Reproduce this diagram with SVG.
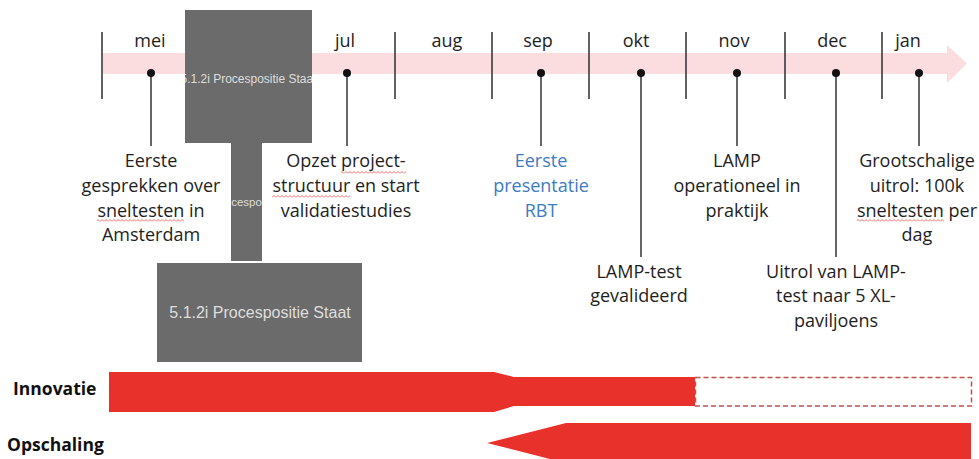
<svg xmlns="http://www.w3.org/2000/svg" width="979" height="459" viewBox="0 0 979 459">
<style>
.t{font-family:"Open Sans","Liberation Sans",sans-serif;font-size:18px;fill:#1e1e1e;text-anchor:middle}
.blue{fill:#3d7cc0}
.lab{font-family:"Open Sans","Liberation Sans",sans-serif;font-size:17.5px;font-weight:bold;fill:#111}
.box{fill:#6b6b6b}
.bt{font-family:"Liberation Sans",Arial,sans-serif;fill:#dedede;text-anchor:middle}
.tick{stroke:#3a3a3a;stroke-width:1.6}
.stem{stroke:#333;stroke-width:1.5}
.dot{fill:#111}
.red{fill:#e8312a}
</style>
<defs>
<pattern id="sq" width="4" height="3" patternUnits="userSpaceOnUse">
<path d="M0,2.5 L2,0.5 L4,2.5" fill="none" stroke="#e0443c" stroke-width="0.8"/>
</pattern>
<clipPath id="c1"><rect x="185" y="10" width="127" height="133"/></clipPath>
</defs>
<rect width="979" height="459" fill="#fff"/>

<g id="timeline">
<rect x="103" y="53" width="845" height="21" fill="#fbdde0"/>
<polygon points="947,45 967,63.5 947,83" fill="#fbdde0"/>
<line class="tick" x1="102" y1="32" x2="102" y2="99"/>
<line class="tick" x1="395" y1="32" x2="395" y2="99"/>
<line class="tick" x1="492" y1="32" x2="492" y2="99"/>
<line class="tick" x1="589" y1="32" x2="589" y2="99"/>
<line class="tick" x1="686" y1="32" x2="686" y2="99"/>
<line class="tick" x1="785" y1="32" x2="785" y2="99"/>
<line class="tick" x1="882" y1="32" x2="882" y2="99"/>
<text class="t" x="150" y="47">mei</text>
<text class="t" x="345" y="47">jul</text>
<text class="t" x="447" y="47">aug</text>
<text class="t" x="538" y="47">sep</text>
<text class="t" x="636" y="47">okt</text>
<text class="t" x="734" y="47">nov</text>
<text class="t" x="832" y="47">dec</text>
<text class="t" x="908" y="47">jan</text>
</g>

<g id="connectors">
<line class="stem" x1="151" y1="73" x2="151" y2="146"/>
<line class="stem" x1="347" y1="73" x2="347" y2="146"/>
<line class="stem" x1="541" y1="73" x2="541" y2="146" stroke="#555"/>
<line class="stem" x1="641" y1="73" x2="641" y2="257"/>
<line class="stem" x1="737" y1="73" x2="737" y2="146"/>
<line class="stem" x1="836" y1="73" x2="836" y2="257"/>
<line class="stem" x1="919" y1="73" x2="919" y2="146"/>
<circle class="dot" cx="151" cy="73" r="4"/>
<circle class="dot" cx="347" cy="73" r="4"/>
<circle class="dot" cx="541" cy="73" r="4"/>
<circle class="dot" cx="641" cy="73" r="4"/>
<circle class="dot" cx="737" cy="73" r="4"/>
<circle class="dot" cx="836" cy="73" r="4"/>
<circle class="dot" cx="919" cy="73" r="4"/>
</g>

<g id="mei">
<text class="t" x="151" y="167">Eerste</text>
<text class="t" x="151" y="192">gesprekken over</text>
<text class="t" x="151" y="217">sneltesten in</text>
<text class="t" x="151" y="241">Amsterdam</text>
<rect x="97" y="219" width="87" height="3" fill="url(#sq)"/>
</g>

<g id="jul">
<text class="t" x="346" y="167">Opzet project-</text>
<text class="t" x="346" y="192">structuur en start</text>
<text class="t" x="346" y="217">validatiestudies</text>
<rect x="341" y="171" width="65" height="3" fill="url(#sq)"/>
<rect x="272" y="195" width="78" height="3" fill="url(#sq)"/>
</g>

<g id="sep">
<text class="t blue" x="541" y="167">Eerste</text>
<text class="t blue" x="541" y="192">presentatie</text>
<text class="t blue" x="541" y="217">RBT</text>
</g>

<g id="okt">
<text class="t" x="639" y="278">LAMP-test</text>
<text class="t" x="639" y="302">gevalideerd</text>
</g>

<g id="nov">
<text class="t" x="737" y="167">LAMP</text>
<text class="t" x="737" y="192">operationeel in</text>
<text class="t" x="737" y="217">praktijk</text>
</g>

<g id="dec">
<text class="t" x="836" y="278">Uitrol van LAMP-</text>
<text class="t" x="836" y="302">test naar 5 XL-</text>
<text class="t" x="836" y="327">paviljoens</text>
</g>

<g id="jan">
<text class="t" x="917" y="167">Grootschalige</text>
<text class="t" x="917" y="192">uitrol: 100k</text>
<text class="t" x="917" y="217">sneltesten per</text>
<text class="t" x="917" y="241">dag</text>
<rect x="857" y="219" width="87" height="3" fill="url(#sq)"/>
</g>

<g id="box-top">
<rect class="box" x="185" y="10" width="127" height="133"/>
<text class="bt" x="248.5" y="83" font-size="12" clip-path="url(#c1)">5.1.2i Procespositie Staat</text>
</g>
<g id="box-stem">
<rect class="box" x="231" y="143" width="31" height="118"/>
<text class="bt" x="246.5" y="206" font-size="11.5">cespo</text>
</g>
<g id="box-bottom">
<rect class="box" x="157" y="263" width="205" height="99"/>
<text class="bt" x="260" y="318" font-size="16">5.1.2i Procespositie Staat</text>
</g>

<g id="innovatie">
<text class="lab" x="13" y="395">Innovatie</text>
<polygon class="red" points="109,372 494,372 514,377 695,377 695,406 514,406 494,412 109,412"/>
<rect x="695.5" y="377.5" width="276" height="28.5" fill="none" stroke="#c4504a" stroke-width="1.5" stroke-dasharray="5,3"/>
</g>

<g id="opschaling">
<text class="lab" x="7" y="451">Opschaling</text>
<polygon class="red" points="566,423 971,423 971,459 550,459 487,443"/>
</g>
</svg>
